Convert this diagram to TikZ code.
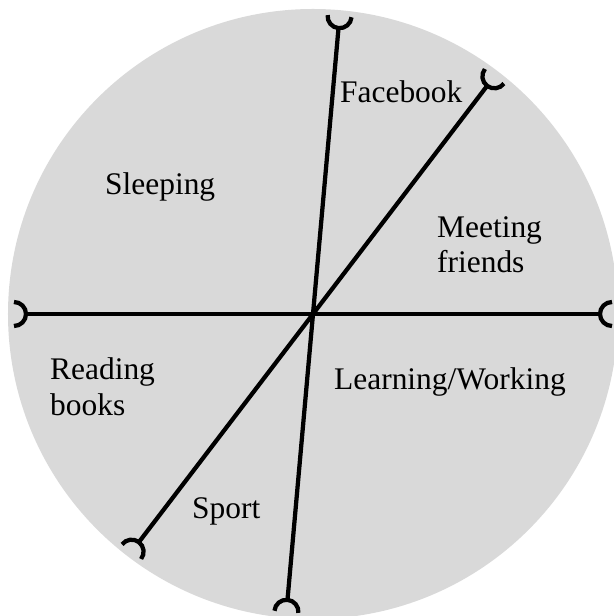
\documentclass[tikz,border=0pt]{standalone}
\usepackage{fontspec}
\setmainfont{Liberation Serif}
\definecolor{piegray}{RGB}{217,217,217}
\begin{document}
\begin{tikzpicture}[x=0.2mm,y=0.2mm,line width=0.85mm,
  lbl/.style={align=left,anchor=base west,inner sep=0pt,font=\fontsize{17.9}{20}\selectfont}]
\useasboundingbox (-313,-302) rectangle (300,314);
\fill[piegray] (0,0) circle (305);
% the three cutting lines, with a cup at each end
\foreach \a in {0,52.65,84.9}{
  \draw (\a+180:287) -- (\a:287);
  \draw (\a:299) ++(\a+90:12) arc[start angle=\a+90,end angle=\a+270,radius=12];
  \draw (\a+180:299) ++(\a+270:12) arc[start angle=\a+270,end angle=\a+450,radius=12];
}
\node[lbl] (facebook) at (25,211) {Facebook};
\node[lbl] (sleeping) at (-210,119) {Sleeping};
\node[lbl] (meeting) at (122,41) {Meeting\\friends};
\node[lbl] (reading) at (-265,-101) {Reading\\books};
\node[lbl] (learning) at (19,-76) {Learning/Working};
\node[lbl] (sport) at (-123,-204) {Sport};
\end{tikzpicture}
\end{document}
